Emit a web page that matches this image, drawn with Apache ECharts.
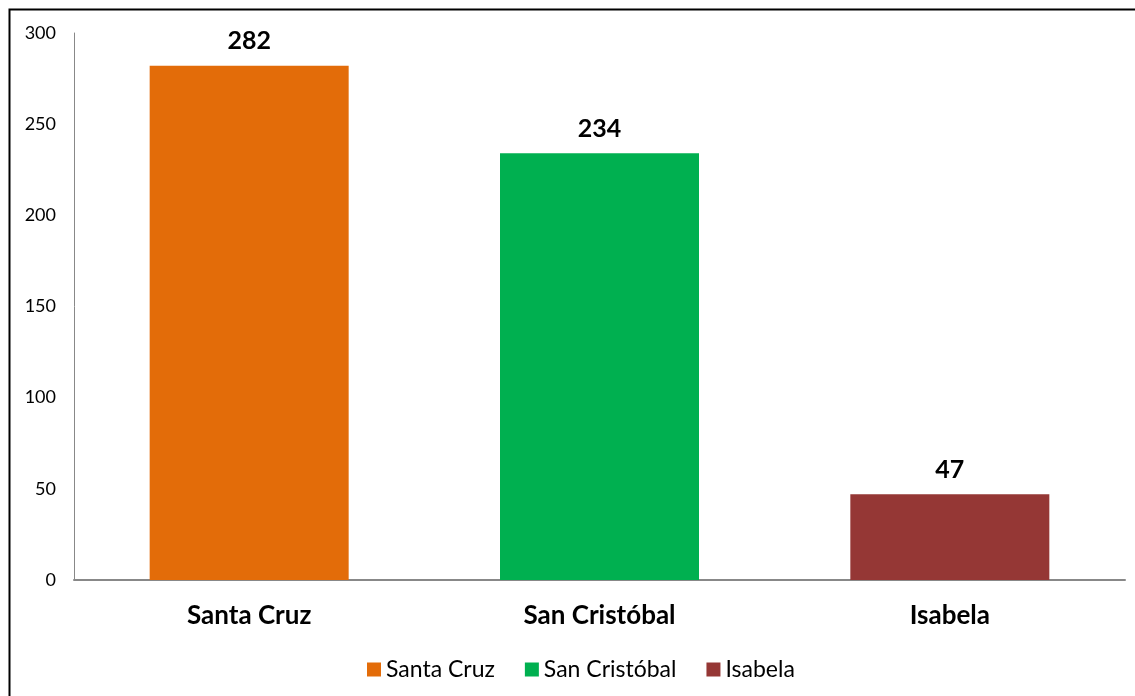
<!DOCTYPE html>
<html><head><meta charset="utf-8">
<script src="https://cdn.jsdelivr.net/npm/echarts@6/dist/echarts.min.js"></script>
<style>html,body{margin:0;padding:0;background:#fff}#c{width:1135px;height:696px}</style>
</head><body><div id="c"></div>
<script>
const categories = ['Santa Cruz', 'San Cristóbal', 'Isabela'];
const values = [282, 234, 47];
const colors = ['#E36C09', '#00B050', '#953735'];
const yTicks = {min: 0, max: 300, interval: 50};

const font = 'Lato, "Open Sans", sans-serif';
const series = categories.map((name, i) => ({
  name: name,
  type: 'bar',
  stack: 'all',
  barWidth: 199,
  data: categories.map((c, j) => j === i ? values[i] : '-'),
  itemStyle: {color: colors[i]},
  label: {show: true, position: 'top', distance: 12, color: '#000', fontWeight: 'bold', fontSize: 25, fontFamily: font}
}));

const chart = echarts.init(document.getElementById('c'));
chart.setOption({
  animation: false,
  backgroundColor: '#fff',
  graphic: [{type: 'rect', shape: {x: 9.5, y: 9.5, width: 1300, height: 900}, style: {fill: 'none', stroke: '#000', lineWidth: 2}, z: 100}],
  grid: {left: 74, right: 10, top: 33, bottom: 116},
  legend: {
    bottom: 10, left: 362, itemWidth: 14, itemHeight: 14, itemGap: 30,
    icon: 'rect',
    textStyle: {fontSize: 23, color: '#000', fontFamily: font},
    data: categories
  },
  xAxis: {
    type: 'category', data: categories,
    axisLine: {lineStyle: {color: '#888', width: 2}},
    axisTick: {show: false},
    axisLabel: {margin: 23, fontSize: 26, fontWeight: 'bold', color: '#000', fontFamily: font}
  },
  yAxis: {
    type: 'value', min: yTicks.min, max: yTicks.max, interval: yTicks.interval,
    splitLine: {show: false},
    axisLine: {show: true, lineStyle: {color: '#888', width: 1}},
    axisTick: {show: false},
    axisLabel: {margin: 18, fontSize: 18, color: '#000', fontFamily: font}
  },
  series: series
});
</script></body></html>
